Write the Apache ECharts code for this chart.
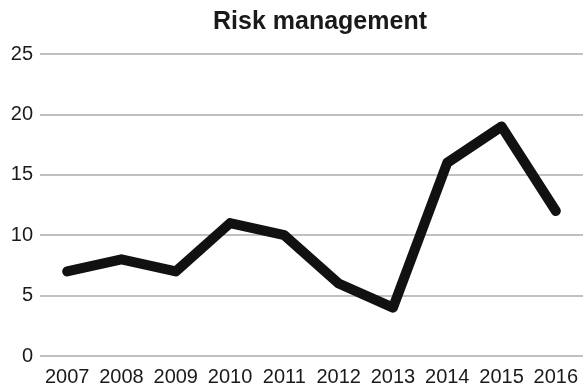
<!DOCTYPE html>
<html>
<head>
<meta charset="utf-8">
<script src="https://cdn.jsdelivr.net/npm/echarts@6/dist/echarts.min.js"></script>
<style>
  html, body { margin: 0; padding: 0; background: #fff; }
  #chart { width: 587px; height: 388px; }
</style>
</head>
<body>
<div id="chart"></div>
<script>
const years = ['2007', '2008', '2009', '2010', '2011', '2012', '2013', '2014', '2015', '2016'];
const riskValues = [7, 8, 7, 11, 10, 6, 4, 16, 19, 12];
const yTicks = { min: 0, max: 25, interval: 5 };

const chart = echarts.init(document.getElementById('chart'), null, { renderer: 'canvas' });
chart.setOption({
  animation: false,
  backgroundColor: '#ffffff',
  title: {
    text: 'Risk management',
    left: 315,
    textAlign: 'center',
    top: 5,
    textStyle: { fontFamily: 'Liberation Sans', fontWeight: 'bold', fontSize: 25, color: '#1a1a1a' }
  },
  grid: { left: 40, right: 4, top: 54, bottom: 32, containLabel: false },
  xAxis: {
    type: 'category',
    data: years,
    boundaryGap: true,
    axisLine: { show: false },
    axisTick: { show: false },
    axisLabel: { fontFamily: 'Liberation Sans', fontSize: 20, color: '#1a1a1a', margin: 11, interval: 0 }
  },
  yAxis: {
    type: 'value',
    min: yTicks.min,
    max: yTicks.max,
    interval: yTicks.interval,
    axisLine: { show: false },
    axisTick: { show: false },
    axisLabel: { fontFamily: 'Liberation Sans', fontSize: 20, color: '#1a1a1a', margin: 7 },
    splitLine: { lineStyle: { color: '#ababab', width: 1.5 } }
  },
  series: [{
    type: 'line',
    data: riskValues,
    symbol: 'none',
    lineStyle: { color: '#111111', width: 10, join: 'round', cap: 'round' }
  }]
});
</script>
</body>
</html>
